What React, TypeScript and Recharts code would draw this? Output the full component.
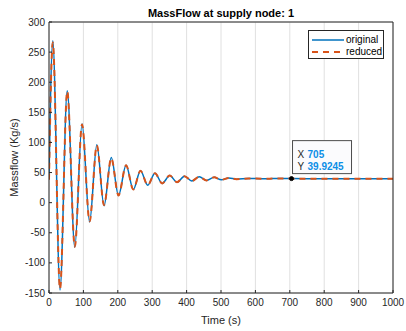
import React from "react";
import {
  LineChart,
  Line,
  XAxis,
  YAxis,
  CartesianGrid,
  ReferenceDot,
  Label,
} from "recharts";

// time samples (s): start, peaks/troughs, then the settled tail
const times = [
  0, 11, 32, 53, 75, 96, 118, 139, 160, 181, 202, 224, 245, 266, 287, 308, 329,
  351, 372, 394, 415, 437, 458, 480, 501, 523, 545, 580, 620, 660, 705, 750, 800,
  850, 900, 950, 1000,
];

const original = [
  40, 269, -145, 186, -74, 131, -32, 96, -5, 75, 12, 62, 22, 53, 29, 49, 32, 45,
  34, 44, 36, 43, 37, 42, 38, 41, 39, 40.2, 39.8, 40, 39.9245, 39.92, 39.92,
  39.92, 39.92, 39.92, 39.92,
];

const reduced = [
  38, 266, -143, 185, -73, 130, -31, 95, -4, 74, 12, 62, 22, 53, 29, 49, 32, 45,
  34, 44, 36, 43, 37, 42, 38, 41, 39, 40.2, 39.8, 40, 39.92, 39.92, 39.92,
  39.92, 39.92, 39.92, 39.92,
];

const xTicks = [0, 100, 200, 300, 400, 500, 600, 700, 800, 900, 1000];
const yTicks = [-150, -100, -50, 0, 50, 100, 150, 200, 250, 300];

const tipX = 705;
const tipY = 39.9245;

const data = times.map((t, i) => ({
  time: t,
  original: original[i],
  reduced: reduced[i],
}));

const font = "'Liberation Sans', Arial, Helvetica, sans-serif";
const axisColor = "#262626";
const tickStyle = { fontSize: 10, fill: axisColor, fontFamily: font };

const LegendBox = () => (
  <div
    style={{
      position: "absolute",
      left: 308,
      top: 30,
      width: 76,
      height: 29,
      border: "1px solid #262626",
      background: "#fff",
      fontFamily: font,
      fontSize: 10,
      color: "#000",
      boxSizing: "border-box",
      paddingTop: 3,
      lineHeight: "12px",
    }}
  >
    <div style={{ display: "flex", alignItems: "center", height: 12 }}>
      <svg width={37} height={12}>
        <line x1={3} x2={35} y1={6} y2={6} stroke="#0072BD" strokeWidth={1.5} />
      </svg>
      <span>original</span>
    </div>
    <div style={{ display: "flex", alignItems: "center", height: 12 }}>
      <svg width={37} height={12}>
        <line
          x1={3}
          x2={35}
          y1={6}
          y2={6}
          stroke="#D95319"
          strokeWidth={2}
          strokeDasharray="6 5"
        />
      </svg>
      <span>reduced</span>
    </div>
  </div>
);

const DataTip = (props: any) => {
  const vb = props.viewBox || {};
  const cx = vb.x + (vb.width || 0) / 2;
  const cy = vb.y + (vb.height || 0) / 2;
  return (
    <g fontFamily={font} fontSize={10}>
      <rect
        x={cx + 1}
        y={cy - 38}
        width={59}
        height={33}
        fill="#fbfbfd"
        stroke="#4d4d4d"
        strokeWidth={1}
      />
      <text x={cx + 6} y={cy - 21} fill={axisColor}>
        X
      </text>
      <text x={cx + 16} y={cy - 21} fill="#0d8fe6" fontWeight="bold">
        {tipX}
      </text>
      <text x={cx + 6} y={cy - 9} fill={axisColor}>
        Y
      </text>
      <text x={cx + 16} y={cy - 9} fill="#0d8fe6" fontWeight="bold">
        {tipY}
      </text>
    </g>
  );
};

export default function App() {
  return (
    <div style={{ position: "absolute", left: 0, top: 0, background: "#fff" }}>
      <LineChart
        width={406}
        height={331}
        data={data}
        margin={{ top: 21, right: 12, bottom: 0, left: 0 }}
      >
        <CartesianGrid stroke="#e0e0e0" strokeWidth={1} />
        <XAxis
          dataKey="time"
          type="number"
          domain={[0, 1000]}
          ticks={xTicks}
          interval={0}
          height={38}
          tick={tickStyle}
          tickSize={-3}
          tickMargin={9}
          stroke={axisColor}
          allowDataOverflow
        >
          <Label
            content={(p: any) => {
              const vb = p.viewBox;
              return (
                <text
                  x={vb.x + vb.width / 2}
                  y={vb.y + 31}
                  textAnchor="middle"
                  fontSize={11}
                  fontFamily={font}
                  fill={axisColor}
                >
                  Time (s)
                </text>
              );
            }}
          />
        </XAxis>
        <XAxis
          xAxisId="top"
          orientation="top"
          dataKey="time"
          type="number"
          domain={[0, 1000]}
          ticks={xTicks}
          interval={0}
          height={1}
          tick={false}
          tickSize={-3}
          stroke={axisColor}
        >
          <Label
            content={(p: any) => {
              const vb = p.viewBox;
              return (
                <text
                  x={vb.x + vb.width / 2}
                  y={vb.y - 4}
                  textAnchor="middle"
                  fontSize={11}
                  fontWeight="bold"
                  fontFamily={font}
                  fill="#000"
                >
                  MassFlow at supply node: 1
                </text>
              );
            }}
          />
        </XAxis>
        <YAxis
          yAxisId="left"
          type="number"
          domain={[-150, 300]}
          ticks={yTicks}
          interval={0}
          width={49}
          tick={tickStyle}
          tickSize={-3}
          tickMargin={7}
          stroke={axisColor}
          allowDataOverflow
        >
          <Label
            content={(p: any) => {
              const vb = p.viewBox;
              const x = vb.x + 14;
              const y = vb.y + vb.height / 2;
              return (
                <text
                  x={x}
                  y={y}
                  transform={`rotate(-90 ${x} ${y})`}
                  textAnchor="middle"
                  dominantBaseline="central"
                  fontSize={11}
                  fontFamily={font}
                  fill={axisColor}
                >
                  Massflow (Kg/s)
                </text>
              );
            }}
          />
        </YAxis>
        <YAxis
          yAxisId="right"
          orientation="right"
          type="number"
          domain={[-150, 300]}
          ticks={yTicks}
          interval={0}
          width={1}
          tick={false}
          tickSize={-3}
          stroke={axisColor}
        />
        <Line
          yAxisId="left"
          dataKey="original"
          type="monotone"
          stroke="#0072BD"
          strokeWidth={1.5}
          dot={false}
          isAnimationActive={false}
        />
        <Line
          yAxisId="left"
          dataKey="reduced"
          type="monotone"
          stroke="#D95319"
          strokeWidth={2}
          strokeDasharray="6 5"
          dot={false}
          isAnimationActive={false}
        />
        <ReferenceDot
          yAxisId="left"
          x={tipX}
          y={tipY}
          r={2}
          fill="#000"
          stroke="#000"
          label={<DataTip />}
        />
      </LineChart>
      <LegendBox />
    </div>
  );
}
